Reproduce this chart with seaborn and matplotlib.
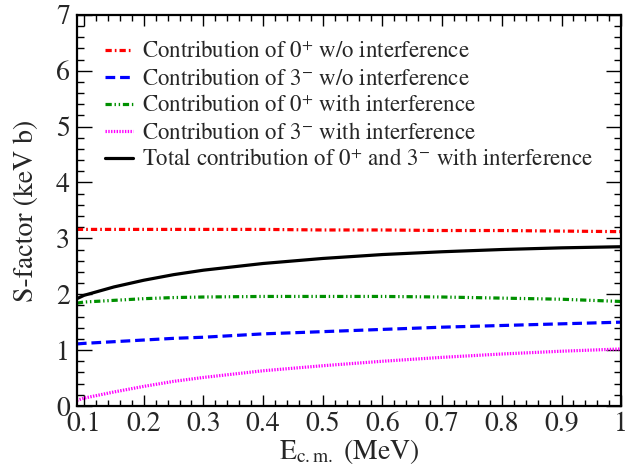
#!/usr/bin/env python

import matplotlib
matplotlib.use("Agg")
import matplotlib.pyplot as plt
from matplotlib.ticker import MultipleLocator, FixedLocator
import seaborn as sns

# ===================== DATOS =====================

energy = [0.088, 0.1, 0.15, 0.2, 0.25, 0.3, 0.4, 0.5, 0.6, 0.7, 0.8, 0.9, 1.0]

s_0p_noint = [3.16, 3.16, 3.16, 3.16, 3.16, 3.16, 3.16, 3.15, 3.15, 3.14, 3.14, 3.13, 3.12]
s_3m_noint = [1.11, 1.12, 1.15, 1.18, 1.21, 1.23, 1.29, 1.33, 1.37, 1.41, 1.44, 1.47, 1.50]
s_0p_int = [1.84, 1.86, 1.89, 1.92, 1.94, 1.95, 1.96, 1.96, 1.96, 1.95, 1.93, 1.91, 1.87]
s_3m_int = [0.10, 0.14, 0.25, 0.35, 0.44, 0.51, 0.63, 0.72, 0.80, 0.87, 0.93, 0.98, 1.02]
s_total = [1.92, 1.98, 2.13, 2.25, 2.35, 2.43, 2.55, 2.64, 2.71, 2.76, 2.80, 2.83, 2.85]

labels = [
    r"Contribution of 0$^{+}$ w/o interference",
    r"Contribution of 3$^{-}$ w/o interference",
    r"Contribution of 0$^{+}$ with interference",
    r"Contribution of 3$^{-}$ with interference",
    r"Total contribution of 0$^{+}$ and 3$^{-}$ with interference",
]

x_ticks = [0.1, 0.2, 0.3, 0.4, 0.5, 0.6, 0.7, 0.8, 0.9, 1.0]
x_ticklabels = ["0.1", "0.2", "0.3", "0.4", "0.5", "0.6", "0.7", "0.8", "0.9", "1"]
y_ticks = [0, 1, 2, 3, 4, 5, 6, 7]
y_ticklabels = ["0", "1", "2", "3", "4", "5", "6", "7"]

# ===================== ESTILO =====================

sns.set_style("ticks")

# Fuente tipo Times (STIX viene con matplotlib)
plt.rcParams["font.family"] = "STIXGeneral"
plt.rcParams["mathtext.fontset"] = "stix"
plt.rcParams["lines.scale_dashes"] = False

# ===================== FIGURA =====================

fig = plt.figure(figsize=(6.25, 4.65), dpi=100)
ax = fig.add_axes([0.123, 0.127, 0.871, 0.841])

series = [
    (s_0p_noint, "#ff0000", (0, (4.5, 2.2, 1.2, 2.2))),
    (s_3m_noint, "#0000ff", (0, (7.0, 3.5))),
    (s_0p_int, "#009000", (0, (4.5, 2.0, 1.0, 2.0, 1.0, 2.0))),
    (s_3m_int, "#ff00ff", (0, (1.0, 1.0))),
    (s_total, "#000000", "-"),
]

for (values, color, style), label in zip(series, labels):
    sns.lineplot(x=energy, y=values, color=color, linewidth=2.3,
                 label=label, ax=ax)
    ax.lines[-1].set_linestyle(style)

ax.set_xlim(0.088, 1.0)
ax.set_ylim(0, 7)

ax.xaxis.set_major_locator(FixedLocator(x_ticks))
ax.set_xticklabels(x_ticklabels)
ax.xaxis.set_minor_locator(MultipleLocator(0.02))
ax.yaxis.set_major_locator(FixedLocator(y_ticks))
ax.set_yticklabels(y_ticklabels)
ax.yaxis.set_minor_locator(MultipleLocator(0.2))

ax.tick_params(axis="both", which="both", direction="in", top=True,
               right=True, labelsize=20, width=1.0, color="black")
ax.tick_params(axis="x", which="major", length=8, pad=4)
ax.tick_params(axis="x", which="minor", length=4.5)
ax.tick_params(axis="y", which="major", length=10.5, pad=5)
ax.tick_params(axis="y", which="minor", length=5)

for spine in ax.spines.values():
    spine.set_linewidth(1.6)
    spine.set_color("black")

ax.set_xlabel(r"E$_{\mathrm{c.m.}}$ (MeV)", fontsize=20, labelpad=0)
ax.set_ylabel("S-factor (keV b)", fontsize=20, labelpad=12)

ax.legend(loc="upper left", bbox_to_anchor=(0.035, 0.955), frameon=False,
          fontsize=16.5, handlelength=1.2, handletextpad=0.42,
          labelspacing=0.25, borderaxespad=0)

fig.savefig("out.png", dpi=100)
